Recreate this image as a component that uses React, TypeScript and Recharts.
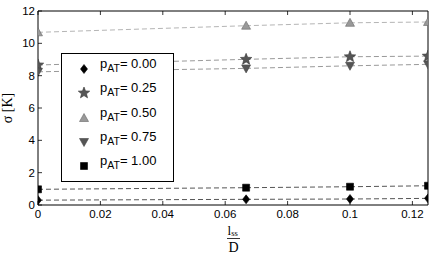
import React from "react";
import { ComposedChart, Line, XAxis, YAxis, Label } from "recharts";

const xValues = [0, 0.0667, 0.1, 0.125];
const p000 = [0.3, 0.35, 0.37, 0.41];
const p025 = [8.66, 9.01, 9.17, 9.21];
const p050 = [10.68, 11.09, 11.27, 11.32];
const p075 = [8.24, 8.45, 8.61, 8.7];
const p100 = [0.97, 1.07, 1.13, 1.19];
const xTicks = [0, 0.02, 0.04, 0.06, 0.08, 0.1, 0.12];
const yTicks = [0, 2, 4, 6, 8, 10, 12];
const seriesLabels = ["0.00", "0.25", "0.50", "0.75", "1.00"];

const data = xValues.map((x, i) => ({
  x,
  s0: p000[i],
  s1: p025[i],
  s2: p050[i],
  s3: p075[i],
  s4: p100[i],
}));

type MarkerKind = "diamond" | "star" | "up" | "down" | "square";

function markerPath(kind: MarkerKind, cx: number, cy: number): string {
  switch (kind) {
    case "diamond":
      return `M${cx},${cy - 4.5}L${cx + 3.5},${cy}L${cx},${cy + 4.5}L${cx - 3.5},${cy}Z`;
    case "square":
      return `M${cx - 3.5},${cy - 3.5}h7v7h-7Z`;
    case "up":
      return `M${cx},${cy - 4.5}L${cx + 4.5},${cy + 3.5}L${cx - 4.5},${cy + 3.5}Z`;
    case "down":
      return `M${cx},${cy + 4.5}L${cx + 4.5},${cy - 3.5}L${cx - 4.5},${cy - 3.5}Z`;
    case "star": {
      const pts: string[] = [];
      for (let k = 0; k < 10; k++) {
        const r = k % 2 === 0 ? 6 : 2.6;
        const a = -Math.PI / 2 + (k * Math.PI) / 5;
        pts.push(`${cx + r * Math.cos(a)},${cy + r * Math.sin(a)}`);
      }
      return "M" + pts.join("L") + "Z";
    }
  }
}

const seriesStyle: { key: string; kind: MarkerKind; fill: string; stroke: string; line: string }[] = [
  { key: "s0", kind: "diamond", fill: "#000", stroke: "#000", line: "#555" },
  { key: "s1", kind: "star", fill: "#555", stroke: "#333", line: "#999" },
  { key: "s2", kind: "up", fill: "#999", stroke: "#666", line: "#b5b5b5" },
  { key: "s3", kind: "down", fill: "#555", stroke: "#444", line: "#999" },
  { key: "s4", kind: "square", fill: "#000", stroke: "#000", line: "#555" },
];

const makeDot = (kind: MarkerKind, fill: string, stroke: string) => (props: any) => {
  const { cx, cy, index } = props;
  if (cx == null || cy == null) return <g key={index} />;
  return <path key={index} d={markerPath(kind, cx, cy)} fill={fill} stroke={stroke} strokeWidth={0.6} />;
};

const LegendBox = () => (
  <div
    style={{
      position: "absolute",
      left: 61,
      top: 53,
      width: 111,
      height: 127,
      border: "1px solid #000",
      background: "#fff",
      fontFamily: "'Liberation Sans', Arial, sans-serif",
      fontSize: 13,
      lineHeight: "14px",
    }}
  >
    {seriesStyle.map((s, i) => (
      <div key={s.key} style={{ position: "absolute", left: 0, top: 4 + i * 24.3, height: 22, width: 110 }}>
        <svg width={16} height={16} style={{ position: "absolute", left: 14, top: 3 }}>
          <path d={markerPath(s.kind, 8, 8)} fill={s.fill} stroke={s.stroke} strokeWidth={0.6} />
        </svg>
        <span style={{ position: "absolute", left: 38, top: -1, whiteSpace: "nowrap", color: "#000" }}>
          p<span style={{ fontSize: 10.5, position: "relative", top: 4 }}>AT</span>= {seriesLabels[i]}
        </span>
      </div>
    ))}
  </div>
);

const XFractionLabel = (props: any) => {
  const vb = props.viewBox || {};
  const cx = vb.x + vb.width / 2 + 0.5;
  const top = vb.y;
  return (
    <g fontFamily="'Liberation Serif', 'Times New Roman', serif" fill="#000">
      <text x={cx - 6} y={top + 30} fontSize={13}>
        l<tspan fontSize={8.5} dy={1}>ss</tspan>
      </text>
      <line x1={cx - 6.5} x2={cx + 6.5} y1={top + 33.5} y2={top + 33.5} stroke="#000" strokeWidth={0.8} />
      <text x={cx} y={top + 47} fontSize={14} textAnchor="middle">D</text>
    </g>
  );
};

const FONT = "'Liberation Sans', Arial, sans-serif";

const BottomTick = (props: any) => {
  const { x, y, payload } = props;
  return (
    <g>
      <line x1={x} x2={x} y1={y} y2={y - 4} stroke="#000" strokeWidth={0.8} />
      <text x={x} y={y + 13} textAnchor="middle" fontSize={11.5} fontFamily={FONT} fill="#000">
        {String(payload.value)}
      </text>
    </g>
  );
};
const TopTick = (props: any) => {
  const { x, y } = props;
  return <line x1={x} x2={x} y1={y} y2={y + 4} stroke="#000" strokeWidth={0.8} />;
};
const LeftTick = (props: any) => {
  const { x, y, payload } = props;
  return (
    <g>
      <line x1={x} x2={x + 4} y1={y} y2={y} stroke="#000" strokeWidth={0.8} />
      <text x={x - 3} y={y + 4} textAnchor="end" fontSize={11.5} fontFamily={FONT} fill="#000">
        {String(payload.value)}
      </text>
    </g>
  );
};
const RightTick = (props: any) => {
  const { x, y } = props;
  return <line x1={x} x2={x - 4} y1={y} y2={y} stroke="#000" strokeWidth={0.8} />;
};

export default function App() {
  return (
    <div style={{ position: "absolute", left: 0, top: 0, width: 436, height: 255, background: "#fff" }}>
      <ComposedChart width={436} height={255} data={data} margin={{ top: 10, right: 7, bottom: 0, left: 0 }}>
        <XAxis
          xAxisId="b"
          dataKey="x"
          type="number"
          domain={[0, 0.125]}
          ticks={xTicks}
          allowDataOverflow
          height={50}
          stroke="#000"
          tickLine={false}
          tickSize={0}
          tickMargin={0}
          tick={BottomTick}
          interval={0}
        >
          <Label content={XFractionLabel} />
        </XAxis>
        <XAxis
          xAxisId="t"
          orientation="top"
          dataKey="x"
          type="number"
          domain={[0, 0.125]}
          ticks={xTicks}
          allowDataOverflow
          height={1}
          stroke="#000"
          tickLine={false}
          tickSize={0}
          tickMargin={0}
          tick={TopTick}
          interval={0}
        />
        <YAxis
          yAxisId="l"
          type="number"
          domain={[0, 12]}
          ticks={yTicks}
          width={38}
          stroke="#000"
          tickLine={false}
          tickSize={0}
          tickMargin={0}
          tick={LeftTick}
          interval={0}
          label={{
            value: "σ [K]",
            angle: -90,
            position: "insideLeft",
            offset: 7,
            style: { fontFamily: "'Liberation Serif', 'Times New Roman', serif", fontSize: 14, fill: "#000", textAnchor: "middle" },
          }}
        />
        <YAxis
          yAxisId="r"
          orientation="right"
          type="number"
          domain={[0, 12]}
          ticks={yTicks}
          width={1}
          stroke="#000"
          tickLine={false}
          tickSize={0}
          tickMargin={0}
          tick={RightTick}
          interval={0}
        />
        {seriesStyle.map((s) => (
          <Line
            key={s.key}
            xAxisId="b"
            yAxisId="l"
            dataKey={s.key}
            type="linear"
            stroke={s.line}
            strokeWidth={1}
            strokeDasharray="5 3"
            dot={makeDot(s.kind, s.fill, s.stroke)}
            activeDot={false}
            isAnimationActive={false}
          />
        ))}
      </ComposedChart>
      <LegendBox />
    </div>
  );
}
